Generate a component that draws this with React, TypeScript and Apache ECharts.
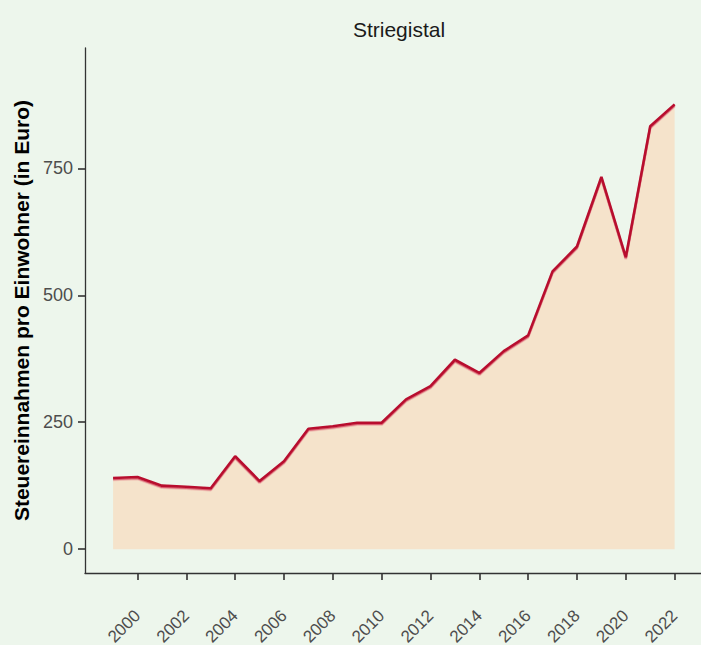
import React, { useEffect, useRef } from "react";
import * as echarts from "echarts";

const years = [1999, 2000, 2001, 2002, 2003, 2004, 2005, 2006, 2007, 2008, 2009, 2010, 2011, 2012, 2013, 2014, 2015, 2016, 2017, 2018, 2019, 2020, 2021, 2022];
const values = [140, 142, 125, 123, 120, 183, 134, 173, 237, 242, 249, 249, 295, 321, 373, 347, 390, 421, 547, 596, 733, 575, 833, 876];
const xTicks = [2000, 2002, 2004, 2006, 2008, 2010, 2012, 2014, 2016, 2018, 2020, 2022];
const yTicks = [0, 250, 500, 750];
const title = "Striegistal";
const yName = "Steuereinnahmen pro Einwohner (in Euro)";

export default function App() {
  const ref = useRef<HTMLDivElement>(null);
  useEffect(() => {
    if (!ref.current) return;
    const chart = echarts.init(ref.current, null, { renderer: "svg" });
    const data = years.map((y, i) => [y, values[i]]);
    const font = "Liberation Sans, Arial, sans-serif";
    chart.setOption({
      animation: false,
      backgroundColor: "#EDF6EC",
      title: {
        text: title,
        left: 394,
        top: 14,
        textAlign: "center",
        textStyle: { fontFamily: font, fontSize: 21, fontWeight: "normal", color: "#1a1a1a" },
      },
      grid: { left: 85, right: 0, top: 48, bottom: 72, containLabel: false, outerBoundsMode: "none" },
      xAxis: {
        type: "value",
        min: 1997.85,
        max: 2023.08,
        splitLine: { show: false },
        axisLine: { show: true, onZero: false, lineStyle: { color: "#333", width: 1.3 } },
        axisTick: { show: true, customValues: xTicks, length: 7, lineStyle: { color: "#333", width: 1.6 } },
        axisLabel: {
          customValues: xTicks,
          rotate: 45,
          margin: 40,
          color: "#4d4d4d",
          fontSize: 17,
          fontFamily: font,
          formatter: (v: number) => String(v),
        },
      },
      yAxis: {
        type: "value",
        min: -47,
        max: 987,
        name: yName,
        nameLocation: "middle",
        nameRotate: 90,
        nameGap: 52,
        nameTextStyle: { fontFamily: font, fontSize: 21, fontWeight: "bold", color: "#000" },
        splitLine: { show: false },
        axisLine: { show: true, onZero: false, lineStyle: { color: "#333", width: 1.3 } },
        axisTick: { show: true, customValues: yTicks, length: 7, lineStyle: { color: "#333", width: 1.6 } },
        axisLabel: { customValues: yTicks, margin: 12, color: "#4d4d4d", fontSize: 18, fontFamily: font },
      },
      series: [
        {
          type: "line",
          data,
          symbol: "none",
          lineStyle: {
            color: "#B8102F",
            width: 2.6,
            shadowColor: "rgba(214,70,96,0.85)",
            shadowOffsetY: 1.3,
            shadowBlur: 0,
          },
          areaStyle: { color: "#F5E3CB", opacity: 1, origin: 0 },
        },
      ],
    });
    return () => chart.dispose();
  }, []);
  return <div ref={ref} style={{ position: "fixed", left: 0, top: 0, width: 701, height: 645 }} />;
}
